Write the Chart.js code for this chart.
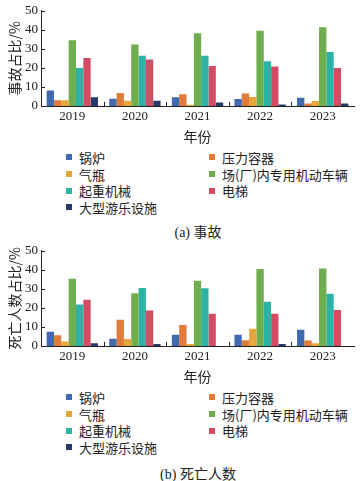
<!DOCTYPE html>
<html>
<head>
<meta charset="utf-8">
<script src="https://cdn.jsdelivr.net/npm/chart.js@4"></script>
<style>
  body { margin: 0; background: #fff; width: 363px; height: 481px; position: relative; overflow: hidden;
         font-family: "Liberation Serif", "Noto Sans CJK SC", serif; color: #222; }
  .box { position: absolute; left: 0; width: 363px; height: 145px; }
  .legend { position: absolute; left: 66px; width: 297px; display: grid; grid-template-columns: 143px 154px;
            grid-auto-rows: 16.7px; font-size: 13px; font-family: "Noto Sans CJK SC", serif; }
  .legend div { display: flex; align-items: center; white-space: nowrap; }
  .legend span.sw { display: inline-block; width: 6px; height: 6px; margin-right: 7px; }
  .caption { position: absolute; left: 0; width: 396px; text-align: center; font-size: 14px;
             font-family: "Liberation Serif", "Noto Sans CJK SC", serif; }
</style>
</head>
<body>
<div class="box" style="top:0"><canvas id="chart-accidents"></canvas></div>
<div class="legend" id="legend-a" style="top:149px"></div>
<div class="caption" style="top:221px">(a) 事故</div>

<div class="box" style="top:240px"><canvas id="chart-deaths"></canvas></div>
<div class="legend" id="legend-b" style="top:389px"></div>
<div class="caption" style="top:463px">(b) 死亡人数</div>

<script>
// categorías y series
const years = ['2019', '2020', '2021', '2022', '2023'];
const seriesNames = ['锅炉', '压力容器', '气瓶', '场(厂)内专用机动车辆', '起重机械', '电梯', '大型游乐设施'];
const seriesColors = ['#4169b0', '#e07b39', '#e6a63a', '#6fae4e', '#2db3a4', '#d24d63', '#233a6b'];

// (a) 事故占比/%
const accGuolu   = [8.2, 3.8, 4.6, 3.7, 4.3];
const accYali    = [3.0, 6.8, 6.2, 6.5, 1.3];
const accQiping  = [3.0, 2.7, 0.6, 4.7, 2.6];
const accChangnei= [34.5, 32.3, 38.2, 39.5, 41.3];
const accQizhong = [20.0, 26.4, 26.4, 23.5, 28.4];
const accDianti  = [25.2, 24.4, 21.0, 20.7, 20.0];
const accYoule   = [4.6, 2.7, 1.8, 0.8, 1.3];

// (b) 死亡人数占比/%
const dthGuolu   = [7.5, 3.8, 5.9, 5.9, 8.6];
const dthYali    = [5.7, 13.8, 11.0, 3.0, 2.9];
const dthQiping  = [2.3, 3.7, 1.0, 9.0, 1.4];
const dthChangnei= [35.3, 27.7, 34.3, 40.5, 40.7];
const dthQizhong = [21.8, 30.5, 30.3, 23.2, 27.5];
const dthDianti  = [24.3, 18.7, 17.0, 17.0, 18.9];
const dthYoule   = [1.5, 1.0, 0, 1.0, 0];

const yTicks = [0, 10, 20, 30, 40, 50];

const serif = '"Liberation Serif", "Noto Sans CJK SC", serif';

// marcas de graduación hacia dentro
const inwardTicks = {
    id: 'inwardTicks',
    afterDraw(chart) {
        const ctx = chart.ctx;
        const x = chart.scales.x, y = chart.scales.y;
        const area = chart.chartArea;
        ctx.save();
        ctx.strokeStyle = '#222';
        ctx.lineWidth = 1;
        ctx.beginPath();
        yTicks.forEach(v => {
            const py = Math.round(y.getPixelForValue(v)) + 0.5;
            ctx.moveTo(area.left, py);
            ctx.lineTo(area.left + 4, py);
        });
        for (let i = 1; i < years.length; i++) {
            const px = Math.round(x.getPixelForValue(i - 0.5)) + 0.5;
            ctx.moveTo(px, area.bottom);
            ctx.lineTo(px, area.bottom - 4);
        }
        ctx.stroke();
        ctx.restore();
    }
};

function crearGrafico(id, data, yTitle) {
    const ctx = document.getElementById(id).getContext('2d');
    return new Chart(ctx, {
        type: 'bar',
        data: {
            labels: years,
            datasets: seriesNames.map((name, i) => ({
                label: name,
                data: data[i],
                backgroundColor: seriesColors[i],
                borderWidth: 0,
                categoryPercentage: 0.82,
                barPercentage: 1.0
            }))
        },
        options: {
            responsive: true,
            maintainAspectRatio: false,
            animation: false,
            layout: { padding: { top: 0, right: 9, left: 0, bottom: 0 } },
            plugins: { legend: { display: false }, tooltip: { enabled: false } },
            scales: {
                x: {
                    grid: { display: false, drawTicks: false },
                    border: { display: true, color: '#222', width: 1 },
                    ticks: { color: '#222', padding: 3, font: { family: serif, size: 13 } },
                    title: { display: true, text: '年份', color: '#222', padding: { top: 0, bottom: 0 },
                             font: { family: '"Noto Sans CJK SC", serif', size: 14 } },
                    afterFit(scale) { scale.height = 39; }
                },
                y: {
                    min: 0, max: 50,
                    afterBuildTicks(scale) { scale.ticks = yTicks.map(v => ({ value: v })); },
                    grid: { display: false, drawTicks: false },
                    border: { display: true, color: '#222', width: 1 },
                    ticks: { color: '#222', padding: 3, font: { family: serif, size: 13 } },
                    title: { display: true, text: yTitle, color: '#222', padding: { top: 6, bottom: 0 },
                             font: { family: '"Noto Sans CJK SC", serif', size: 14 } },
                    afterFit(scale) { scale.width = 41; }
                }
            }
        },
        plugins: [inwardTicks]
    });
}

function crearLeyenda(id) {
    const el = document.getElementById(id);
    seriesNames.forEach((name, i) => {
        const item = document.createElement('div');
        const sw = document.createElement('span');
        sw.className = 'sw';
        sw.style.background = seriesColors[i];
        item.appendChild(sw);
        item.appendChild(document.createTextNode(name));
        el.appendChild(item);
    });
}

crearGrafico('chart-accidents',
    [accGuolu, accYali, accQiping, accChangnei, accQizhong, accDianti, accYoule], '事故占比/%');
crearGrafico('chart-deaths',
    [dthGuolu, dthYali, dthQiping, dthChangnei, dthQizhong, dthDianti, dthYoule], '死亡人数占比/%');
crearLeyenda('legend-a');
crearLeyenda('legend-b');
</script>
</body>
</html>
